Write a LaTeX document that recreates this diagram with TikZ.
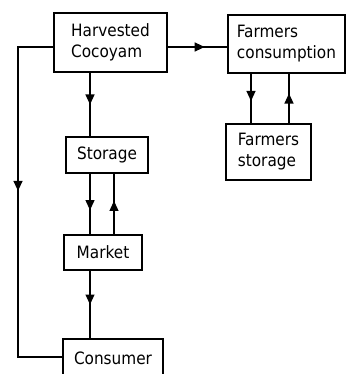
\documentclass[tikz,border=0pt]{standalone}
\usepackage{fontspec}
\setmainfont{DejaVu Sans Condensed}
\usetikzlibrary{arrows.meta,decorations.markings}
\begin{document}
\begin{tikzpicture}[x=1pt,y=-1pt,
  box/.style={draw,line width=1.2pt,inner sep=0pt,align=left,
    font=\fontsize{17}{21}\selectfont},
  link/.style={line width=1.2pt},
  midarrow/.style={postaction={decorate},decoration={markings,
    mark=at position #1 with {\arrow{Triangle[width=9pt,length=10pt]}}}},
  midarrow/.default=0.55]
\useasboundingbox (0,0) rectangle (347,374);
\node[box,minimum width=113pt,minimum height=59pt] (hc) at (110.5,42.5) {Harvested\\Cocoyam};
\node[box,minimum width=117pt,minimum height=58pt] (fc) at (286.5,44) {Farmers\\consumption};
\node[box,minimum width=85pt,minimum height=56pt] (fs) at (268.5,152) {Farmers\\storage};
\node[box,minimum width=82pt,minimum height=36pt] (st) at (107,155) {Storage};
\node[box,minimum width=78pt,minimum height=35pt] (mk) at (103,252.5) {Market};
\node[box,minimum width=100pt,minimum height=44pt,text depth=0pt] (co) at (113,361) {\raisebox{5pt}{Consumer}};
\coordinate (xa) at (90,0);
\coordinate (xb) at (114,0);
\coordinate (xc) at (251,0);
\coordinate (xd) at (289,0);
\coordinate (lc) at (18,0);
% connectors
\draw[link,midarrow=0.62] (hc.east |- 0,47) -- (fc.west |- 0,47);
\draw[link,midarrow=0.5] (hc.south -| xa) -- (st.north -| xa);
\draw[link,midarrow=0.6] (st.south -| xa) -- (mk.north -| xa);
\draw[link,midarrow=0.55] (mk.north -| xb) -- (st.south -| xb);
\draw[link,midarrow=0.5] (mk.south -| xa) -- (co.north -| xa);
\draw[link,midarrow=0.55] (fc.south -| xc) -- (fs.north -| xc);
\draw[link,midarrow=0.6] (fs.north -| xd) -- (fc.south -| xd);
\coordinate (c1) at (lc |- 0,47);
\coordinate (c2) at (lc |- 0,357);
\draw[link,midarrow=0.46] (hc.west |- 0,47) -- (c1) -- (c2) -- (co.west |- 0,357);
\end{tikzpicture}
\end{document}
